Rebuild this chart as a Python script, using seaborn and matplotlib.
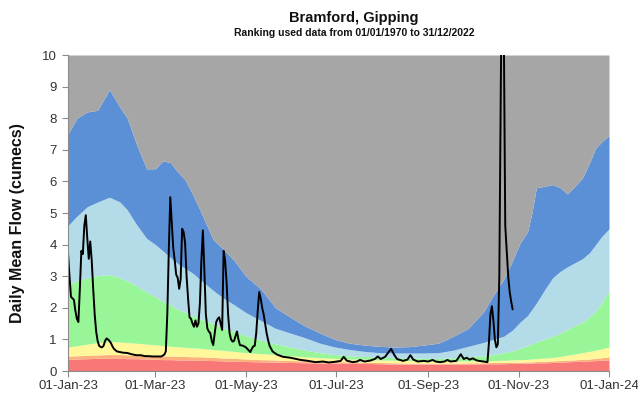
import numpy as np
import pandas as pd
import matplotlib
matplotlib.use("Agg")
import matplotlib.pyplot as plt
import matplotlib.dates as mdates
import seaborn as sns

title = "Bramford, Gipping"
subtitle = "Ranking used data from 01/01/1970 to 31/12/2022"
ylabel = "Daily Mean Flow (cumecs)"
start = "2023-01-01"
end = "2024-01-01"

# days since 01-Jan-2023 at which the ranking bands were read
band_day = [0, 6, 13, 20, 28, 35, 40, 46, 53, 59, 64, 69, 74, 79, 84, 89, 98, 105, 112, 120,
            130, 140, 150, 160, 170, 180, 190, 200, 210, 220, 230, 240, 250, 260, 270, 280,
            287, 294, 300, 305, 310, 313, 316, 322, 327, 332, 337, 341, 347, 352, 356, 360, 365]

red_top = [0.37, 0.38, 0.39, 0.40, 0.40, 0.40, 0.39, 0.39, 0.38, 0.37, 0.36, 0.36, 0.35, 0.35,
           0.34, 0.34, 0.33, 0.32, 0.31, 0.30, 0.29, 0.28, 0.27, 0.26, 0.25, 0.25, 0.24, 0.24,
           0.23, 0.22, 0.22, 0.22, 0.22, 0.22, 0.22, 0.23, 0.23, 0.23, 0.24, 0.24, 0.25, 0.25,
           0.26, 0.26, 0.27, 0.28, 0.29, 0.30, 0.31, 0.32, 0.33, 0.34, 0.35]

orange_top = [0.47, 0.48, 0.50, 0.51, 0.52, 0.52, 0.51, 0.51, 0.50, 0.49, 0.48, 0.47, 0.47, 0.46,
              0.45, 0.45, 0.43, 0.41, 0.40, 0.38, 0.36, 0.35, 0.33, 0.32, 0.31, 0.30, 0.29, 0.28,
              0.27, 0.26, 0.25, 0.25, 0.25, 0.25, 0.26, 0.26, 0.27, 0.27, 0.28, 0.28, 0.29, 0.29,
              0.30, 0.31, 0.32, 0.33, 0.34, 0.35, 0.37, 0.38, 0.40, 0.42, 0.45]

yellow_top = [0.76, 0.80, 0.85, 0.90, 0.93, 0.92, 0.90, 0.88, 0.85, 0.83, 0.80, 0.78, 0.77, 0.75,
              0.73, 0.72, 0.68, 0.65, 0.62, 0.58, 0.55, 0.52, 0.48, 0.45, 0.42, 0.40, 0.38, 0.37,
              0.35, 0.34, 0.33, 0.32, 0.32, 0.32, 0.32, 0.33, 0.33, 0.34, 0.35, 0.36, 0.37, 0.38,
              0.39, 0.41, 0.43, 0.46, 0.50, 0.53, 0.58, 0.62, 0.66, 0.70, 0.76]

green_top = [2.75, 2.85, 2.95, 3.02, 3.05, 2.95, 2.85, 2.70, 2.50, 2.35, 2.20, 2.10, 1.95, 1.85,
             1.75, 1.65, 1.50, 1.35, 1.25, 1.12, 0.98, 0.86, 0.76, 0.66, 0.58, 0.52, 0.48, 0.46,
             0.44, 0.42, 0.41, 0.40, 0.40, 0.42, 0.45, 0.48, 0.52, 0.58, 0.64, 0.72, 0.80, 0.86,
             0.92, 1.02, 1.10, 1.20, 1.32, 1.42, 1.55, 1.72, 1.90, 2.15, 2.55]

lightblue_top = [4.60, 4.90, 5.20, 5.35, 5.50, 5.35, 5.10, 4.65, 4.20, 4.00, 3.80, 3.60, 3.40, 3.25,
                 3.10, 2.90, 2.55, 2.30, 2.10, 1.85, 1.60, 1.35, 1.20, 1.05, 0.88, 0.76, 0.68, 0.62,
                 0.58, 0.57, 0.57, 0.57, 0.58, 0.66, 0.78, 0.90, 1.00, 1.10, 1.30, 1.55, 1.75, 1.95,
                 2.15, 2.60, 2.95, 3.15, 3.30, 3.40, 3.55, 3.75, 4.00, 4.25, 4.50]

blue_top = [7.50, 8.00, 8.20, 8.25, 8.90, 8.35, 8.00, 7.20, 6.40, 6.40, 6.65, 6.60, 6.30, 6.05,
            5.60, 5.10, 4.15, 3.85, 3.50, 3.00, 2.60, 2.00, 1.70, 1.42, 1.20, 1.00, 0.88, 0.82,
            0.78, 0.76, 0.77, 0.82, 0.88, 1.10, 1.35, 1.85, 2.40, 2.90, 3.50, 4.05, 4.40, 5.00,
            5.80, 5.85, 5.90, 5.80, 5.60, 5.80, 6.10, 6.60, 7.05, 7.25, 7.45]

y_max = 10

# daily mean flow 2023 (days since 01-Jan-2023)
flow_day = [0, 1, 2, 3, 4, 5, 6, 7, 8, 9, 10, 11, 12, 13, 14, 15, 16, 17, 18, 19,
            20, 21, 22, 23, 24, 25, 26, 27, 28, 29, 30, 31, 33, 35, 37, 40, 43, 46, 49, 52,
            54, 57, 60, 63, 65, 66, 67, 68, 69, 70, 71, 72, 73, 74, 75, 76, 77, 78, 79, 80,
            81, 82, 83, 84, 85, 86, 87, 88, 89, 90, 91, 92, 93, 94, 95, 96, 97, 98, 99, 100,
            101, 102, 103, 104, 105, 106, 107, 108, 109, 110, 111, 112, 113, 114, 115, 116, 118, 120, 122, 123,
            124, 125, 126, 127, 128, 129, 130, 131, 132, 133, 134, 135, 136, 138, 141, 145, 150, 157, 162, 167,
            172, 176, 180, 184, 186, 188, 192, 195, 197, 200, 204, 207, 209, 211, 214, 216, 218, 220, 222, 226,
            229, 231, 233, 236, 240, 243, 246, 248, 251, 254, 256, 258, 262, 265, 267, 269, 271, 273, 276, 280,
            283, 284, 285, 286, 287, 288, 289, 290, 291, 292, 293, 294, 295, 296, 297, 298, 299, 300]
flow_val = [3.73, 3.00, 2.35, 2.30, 2.25, 1.90, 1.65, 1.55, 2.60, 3.80, 3.70, 4.60, 4.93, 4.20, 3.55, 4.10, 3.50, 2.60, 1.80, 1.25,
            0.95, 0.80, 0.76, 0.75, 0.80, 0.95, 1.03, 1.00, 0.95, 0.88, 0.78, 0.70, 0.62, 0.60, 0.58, 0.57, 0.53, 0.50, 0.50, 0.47,
            0.47, 0.46, 0.46, 0.46, 0.52, 0.62, 1.80, 3.80, 5.50, 4.70, 3.90, 3.50, 3.05, 2.95, 2.60, 2.90, 4.50, 4.40, 4.05, 3.00,
            2.30, 1.70, 1.65, 1.50, 1.40, 1.60, 1.40, 1.50, 2.15, 3.50, 4.45, 3.20, 1.80, 1.35, 1.25, 1.20, 0.95, 0.82, 1.20, 1.55,
            1.65, 1.70, 1.50, 1.30, 3.80, 3.50, 2.80, 1.80, 1.20, 1.00, 0.93, 0.95, 1.10, 1.25, 1.00, 0.82, 0.80, 0.75, 0.65, 0.60,
            0.70, 0.78, 0.80, 1.20, 1.90, 2.50, 2.30, 2.00, 1.80, 1.50, 1.20, 0.98, 0.80, 0.62, 0.52, 0.45, 0.42, 0.35, 0.32, 0.28,
            0.30, 0.27, 0.29, 0.32, 0.45, 0.33, 0.28, 0.30, 0.35, 0.30, 0.33, 0.38, 0.46, 0.38, 0.45, 0.58, 0.70, 0.52, 0.38, 0.32,
            0.36, 0.50, 0.36, 0.30, 0.32, 0.30, 0.35, 0.30, 0.28, 0.30, 0.35, 0.30, 0.32, 0.53, 0.38, 0.42, 0.36, 0.40, 0.33, 0.30,
            0.28, 0.90, 1.80, 2.05, 1.60, 1.00, 0.75, 0.85, 3.00, 9.00, 14.0, 11.0, 4.60, 3.80, 3.00, 2.50, 2.20, 1.95]

band_colors = ["#F87878", "#FBB07E", "#FFF79A", "#98F598", "#B4DCE8", "#5B8FD6"]
grey = "#A6A6A6"

sns.set_theme(style="white")
plt.rcParams["font.family"] = ["Liberation Sans", "DejaVu Sans"]

fig = plt.figure(figsize=(6.38, 3.94), dpi=100)
ax = fig.add_axes([68 / 638, 1 - 371 / 394, (609 - 68) / 638, (371 - 55) / 394])

base = pd.Timestamp(start)
bx = base + pd.to_timedelta(band_day, unit="D")
lower = np.zeros(len(band_day))
for vals, col in zip([red_top, orange_top, yellow_top, green_top, lightblue_top, blue_top], band_colors):
    ax.fill_between(bx, lower, vals, color=col, lw=0)
    lower = np.asarray(vals)
ax.fill_between(bx, lower, y_max, color=grey, lw=0)

df = pd.DataFrame({"date": base + pd.to_timedelta(flow_day, unit="D"), "flow": flow_val})
sns.lineplot(data=df, x="date", y="flow", color="black", lw=1.4, ax=ax, estimator=None)

ax.set_xlim(base, pd.Timestamp(end))
ax.set_ylim(0, y_max)
ax.set_yticks(range(0, 11))
ax.set_xticks(pd.date_range(start, end, freq="2MS"))
ax.xaxis.set_major_formatter(mdates.DateFormatter("%d-%b-%y"))
ax.set_xlabel("")
ax.set_ylabel("")
for s in ["top", "right"]:
    ax.spines[s].set_visible(False)
for s in ["left", "bottom"]:
    ax.spines[s].set_color("#8c8c8c")
    ax.spines[s].set_linewidth(0.8)
ax.tick_params(axis="both", direction="out", length=4, width=0.8, color="#8c8c8c",
               labelsize=9.5, labelcolor="#333333", left=True, bottom=True)
ax.tick_params(axis="x", pad=2.5)
ax.tick_params(axis="y", pad=4)
ax.grid(False)

fig.text(0.555, 0.954, title, ha="center", va="center", fontsize=10.5, fontweight="bold", color="#111111")
fig.text(0.555, 0.9175, subtitle, ha="center", va="center", fontsize=7.5, fontweight="bold", color="#111111")
fig.text(0.028, 1 - 223 / 394, ylabel, ha="center", va="center", rotation=90,
         fontsize=11.5, fontweight="bold", color="#111111")

fig.savefig("out.png", dpi=100)
